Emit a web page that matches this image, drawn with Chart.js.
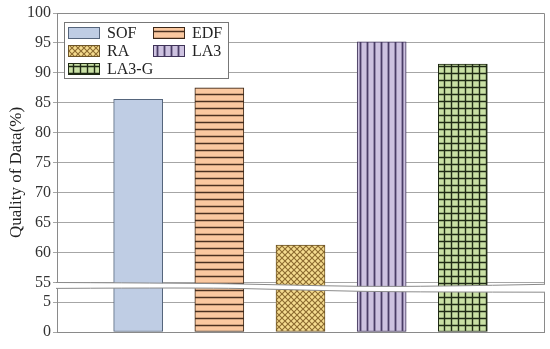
<!DOCTYPE html>
<html><head><meta charset="utf-8">
<script src="https://cdn.jsdelivr.net/npm/chart.js@4.4.1/dist/chart.umd.min.js"></script>
<style>html,body{margin:0;padding:0;background:#fff}#wrap{width:550px;height:349px}</style>
</head><body><div id="wrap"><canvas id="c" width="550" height="349"></canvas></div>
<script>
const categories = ['SOF', 'EDF', 'RA', 'LA3', 'LA3-G'];
const values = [85.6, 87.5, 61.3, 95.2, 91.5];
const tickLabels = [0, 5, 55, 60, 65, 70, 75, 80, 85, 90, 95, 100];
const breakLow = 8.2;   // axis position where value 55 sits (lower segment ends just above 5)
const breakValue = 55;

function axisPos(v) { return v >= breakValue ? v - breakValue + breakLow : v; }

function makePattern(bg, line, kind) {
  const s = kind === 'x' ? 6 : 7;
  const c = document.createElement('canvas'); c.width = s; c.height = s;
  const g = c.getContext('2d');
  g.fillStyle = bg; g.fillRect(0, 0, s, s);
  g.strokeStyle = line;
  if (kind === 'h') { g.lineWidth = 1.5; g.beginPath(); g.moveTo(0, 3.5); g.lineTo(s, 3.5); g.stroke(); }
  if (kind === 'v') { g.lineWidth = 1.8; g.beginPath(); g.moveTo(3.5, 0); g.lineTo(3.5, s); g.stroke(); }
  if (kind === 'g') { g.lineWidth = 1.4; g.beginPath(); g.moveTo(0, 3.5); g.lineTo(s, 3.5); g.moveTo(3.5, 0); g.lineTo(3.5, s); g.stroke(); }
  if (kind === 'x') {
    g.lineWidth = 1.1; g.beginPath();
    g.moveTo(-1, -1); g.lineTo(s + 1, s + 1); g.moveTo(s + 1, -1); g.lineTo(-1, s + 1);
    g.stroke();
  }
  return g.createPattern(c, 'repeat');
}
const fills = [
  '#bfcde4',
  makePattern('#fac8a0', '#4a3020', 'h'),
  makePattern('#f5dc90', '#8c6a30', 'x'),
  makePattern('#cdc2e0', '#4a3d66', 'v'),
  makePattern('#c9e0a4', '#1f2a14', 'g')
];
const borders = ['#55657c', '#3d2818', '#6e5528', '#3f3358', '#1f2a14'];

const datasets = categories.map((name, i) => ({
  label: name,
  data: [{ x: name, y: axisPos(values[i]) }],
  backgroundColor: fills[i],
  borderColor: borders[i],
  borderWidth: 1,
  borderSkipped: false,
  barThickness: 49,
  grouped: false
}));

const serif = "'Liberation Serif', 'DejaVu Serif', serif";

function curve(ctx, pts, move) {
  if (move) ctx.moveTo(pts[0][0], pts[0][1]); else ctx.lineTo(pts[0][0], pts[0][1]);
  for (let i = 1; i < pts.length - 1; i++) {
    const mx = (pts[i][0] + pts[i + 1][0]) / 2, my = (pts[i][1] + pts[i + 1][1]) / 2;
    ctx.quadraticCurveTo(pts[i][0], pts[i][1], mx, my);
  }
  const last = pts[pts.length - 1];
  ctx.lineTo(last[0], last[1]);
}

const decor = {
  id: 'breakDecor',
  afterDatasetsDraw(chart) {
    const ctx = chart.ctx, a = chart.chartArea;
    ctx.save();
    ctx.strokeStyle = '#8a8a8a'; ctx.lineWidth = 1;
    ctx.beginPath();
    ctx.moveTo(a.left, a.top + 0.5); ctx.lineTo(a.right + 0.5, a.top + 0.5); ctx.lineTo(a.right + 0.5, a.bottom);
    ctx.stroke();
    // axis break band, kept inside the plot frame
    ctx.save();
    ctx.beginPath();
    ctx.rect(a.left - 1, a.top, a.right - a.left + 3, a.bottom - a.top);
    ctx.clip();
    const L = a.left - 1, R = a.right + 1;
    const up = [[L, 282.5], [200, 283.2], [280, 284.8], [360, 286.6], [440, 286.2], [R, 284.3]];
    const lo = [[L, 288.4], [200, 287.6], [280, 289.4], [360, 291.5], [440, 292], [R, 292.2]];
    ctx.beginPath();
    curve(ctx, up, true);
    curve(ctx, lo.slice().reverse(), false);
    ctx.closePath();
    ctx.fillStyle = '#ffffff'; ctx.fill();
    ctx.strokeStyle = '#8a8a8a'; ctx.lineWidth = 1;
    ctx.beginPath(); curve(ctx, up, true); ctx.stroke();
    ctx.beginPath(); curve(ctx, lo, true); ctx.stroke();
    ctx.restore();
    // legend
    const bx = 64.5, by = 22.5, bw = 164, bh = 56;
    ctx.fillStyle = '#fff'; ctx.fillRect(bx, by, bw, bh);
    ctx.strokeStyle = '#777'; ctx.lineWidth = 1; ctx.strokeRect(bx, by, bw, bh);
    const pos = [[68, 27], [153, 27], [68, 45], [153, 45], [68, 63]];
    ctx.font = '16px ' + serif; ctx.textBaseline = 'middle';
    chart.data.datasets.forEach((ds, i) => {
      const [x, y] = pos[i];
      ctx.fillStyle = ds.backgroundColor; ctx.fillRect(x, y, 32, 12);
      ctx.strokeStyle = ds.borderColor; ctx.lineWidth = 1; ctx.strokeRect(x + 0.5, y + 0.5, 31, 11);
      ctx.fillStyle = '#222'; ctx.fillText(ds.label, x + 39, y + 7);
    });
    ctx.restore();
  }
};

new Chart(document.getElementById('c'), {
  type: 'bar',
  data: { labels: ['', ...categories, ''], datasets },
  options: {
    responsive: false, animation: false,
    layout: { padding: { top: 13, right: 6, left: 0, bottom: 0 } },
    plugins: { legend: { display: false }, tooltip: { enabled: false } },
    scales: {
      x: {
        type: 'category', offset: false,
        grid: { display: false, drawTicks: false },
        border: { color: '#8a8a8a', width: 1 },
        ticks: { display: false },
        afterFit(s) { s.height = 17; }
      },
      y: {
        min: 0, max: axisPos(100),
        afterBuildTicks(s) { s.ticks = tickLabels.map(v => ({ value: axisPos(v) })); },
        afterFit(s) { s.width = 57; },
        grid: { color: '#a6a6a6', lineWidth: 1, tickLength: 4 },
        border: { color: '#8a8a8a', width: 1 },
        ticks: {
          z: 1,
          autoSkip: false, padding: 2, color: '#333',
          font: { family: serif, size: 16, lineHeight: 1 },
          callback: (v, i) => String(tickLabels[i])
        },
        title: {
          display: true, text: 'Quality of Data(%)', color: '#222',
          font: { family: serif, size: 17 }, padding: { top: 6, bottom: 0 }
        }
      }
    }
  },
  plugins: [decor]
});
</script>
</body></html>
